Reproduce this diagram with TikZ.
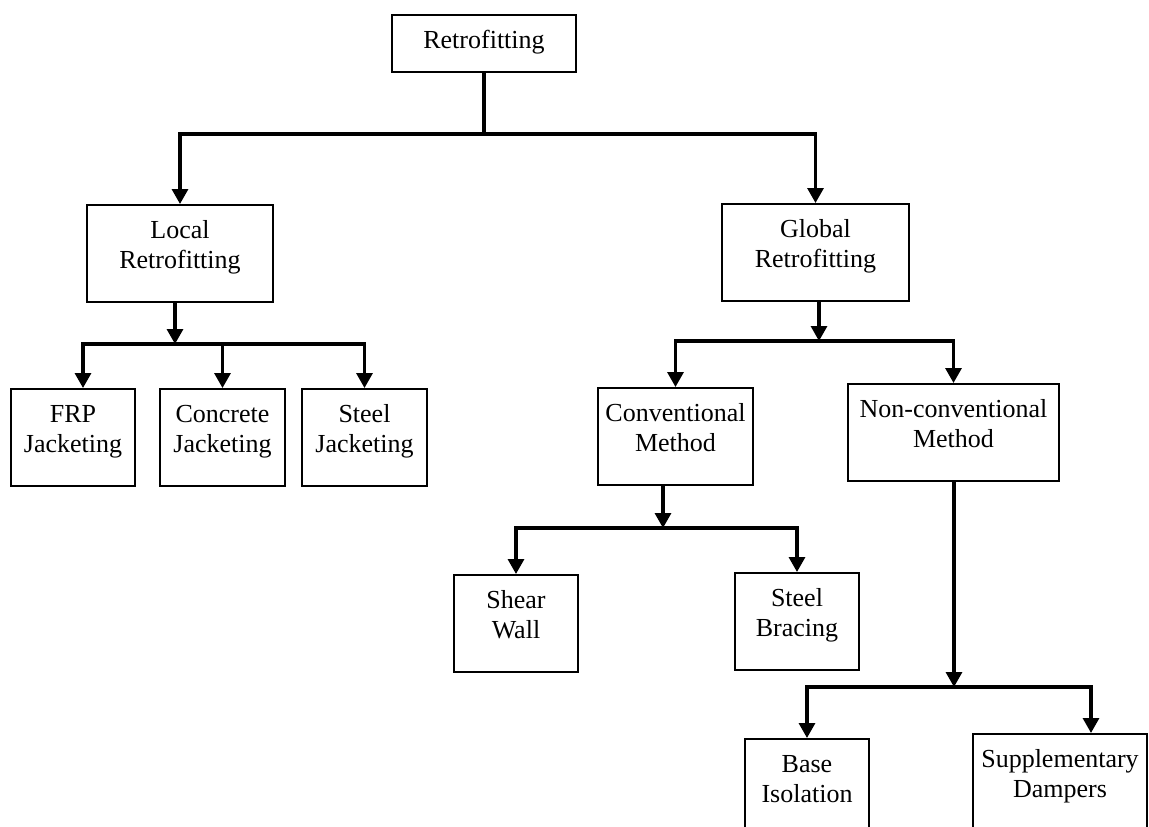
\documentclass[tikz,border=0pt]{standalone}
\usepackage{fontspec}
\setmainfont{Liberation Serif}
\usetikzlibrary{arrows.meta}

\tikzset{
  box/.style={draw, line width=1.5pt, anchor=north, align=center,
    inner xsep=4pt, inner ysep=0pt, font=\fontsize{26}{30}\selectfont,
    text height=64pt, text depth=33pt},
  link/.style={line width=3.2pt, line join=miter},
  arr/.style={link, -{Triangle[width=16pt, length=15pt]}}
}

\begin{document}
\begin{tikzpicture}[x=1pt, y=-1pt]
    \clip (0, 0) rectangle (1149, 827);
    \fill [white] (0, 0) rectangle (1149, 827);

    \node [box, minimum width=184pt, text height=34pt, text depth=23pt] (retro) at (484, 14) {Retrofitting};

    \node [box, minimum width=186pt] (local) at (180, 204) {Local\\Retrofitting};
    \node [box, minimum width=187pt] (global) at (815.5, 203) {Global\\Retrofitting};

    \node [box, minimum width=124pt] (frp) at (73, 388) {FRP\\Jacketing};
    \node [box, minimum width=125pt] (concrete) at (222.5, 388) {Concrete\\Jacketing};
    \node [box, minimum width=125pt] (steelj) at (364.5, 388) {Steel\\Jacketing};

    \node [box, minimum width=155pt] (conv) at (675.5, 387) {Conventional\\Method};
    \node [box, minimum width=211pt] (nonconv) at (953.5, 383) {Non-conventional\\Method};

    \node [box, minimum width=124pt] (shear) at (516, 574) {Shear\\Wall};
    \node [box, minimum width=124pt] (steelb) at (797, 572) {Steel\\Bracing};

    \node [box, minimum width=124pt] (base) at (807, 738) {Base\\Isolation};
    \node [box, minimum width=174pt] (supp) at (1060, 733) {Supplementary\\Dampers};

    \coordinate (j0) at (484, 134);
    \draw [link] (retro.south) -- (j0);
    \draw [arr] (j0) -| (local.north);
    \draw [arr] (j0) -| (global.north);

    \coordinate (j1) at (175, 344);
    \draw [arr] (j1 |- local.south) -- (j1);
    \draw [arr] (j1) -| ([xshift=10pt]frp.north);
    \draw [arr] (j1) -| (concrete.north);
    \draw [arr] (j1) -| (steelj.north);

    \coordinate (j2) at (819, 341);
    \draw [arr] (j2 |- global.south) -- (j2);
    \draw [arr] (j2) -| (conv.north);
    \draw [arr] (j2) -| (nonconv.north);

    \coordinate (j3) at (663, 528);
    \draw [arr] (j3 |- conv.south) -- (j3);
    \draw [arr] (j3) -| (shear.north);
    \draw [arr] (j3) -| (steelb.north);

    \coordinate (j4) at (954, 687);
    \draw [arr] (j4 |- nonconv.south) -- (j4);
    \draw [arr] (j4) -| (base.north);
    \draw [arr] (j4) -| ([xshift=31pt]supp.north);
\end{tikzpicture}
\end{document}
